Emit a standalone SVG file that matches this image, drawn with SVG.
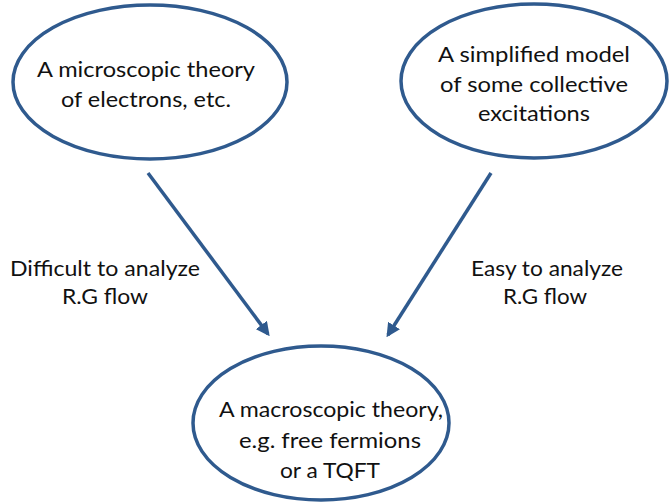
<svg xmlns="http://www.w3.org/2000/svg" width="670" height="503" viewBox="0 0 670 503">
<defs>
<style>
.node ellipse{fill:#ffffff;stroke:#2f5a8e;stroke-width:3.5}
text{font-family:"Lato","Open Sans","Liberation Sans",sans-serif;font-size:22px;fill:#111111;text-anchor:middle}
.conn line{stroke:#2f5a8e;stroke-width:3.5}
</style>
<marker id="ah" viewBox="0 0 10 10" refX="8" refY="5" markerWidth="4" markerHeight="4" orient="auto" markerUnits="strokeWidth">
<path d="M0,0 L10,5 L0,10 Z" fill="#2f5a8e"/>
</marker>
</defs>
<rect width="670" height="503" fill="#ffffff"/>
<g id="n1" class="node">
<ellipse cx="150" cy="82" rx="137" ry="77"/>
<text x="146" y="77" textLength="218" lengthAdjust="spacingAndGlyphs">A microscopic theory</text>
<text x="146" y="107" textLength="170" lengthAdjust="spacingAndGlyphs">of electrons, etc.</text>
</g>
<g id="n2" class="node">
<ellipse cx="534" cy="81" rx="133" ry="77"/>
<text x="534" y="62" textLength="192" lengthAdjust="spacingAndGlyphs">A simplified model</text>
<text x="534" y="92" textLength="188" lengthAdjust="spacingAndGlyphs">of some collective</text>
<text x="534" y="121" textLength="112" lengthAdjust="spacingAndGlyphs">excitations</text>
</g>
<g id="n3" class="node">
<ellipse cx="321" cy="423" rx="128" ry="77"/>
<text x="331" y="417" textLength="224" lengthAdjust="spacingAndGlyphs">A macroscopic theory,</text>
<text x="330" y="448" textLength="182" lengthAdjust="spacingAndGlyphs">e.g. free fermions</text>
<text x="330" y="478" textLength="100" lengthAdjust="spacingAndGlyphs">or a TQFT</text>
</g>
<g id="connectors" class="conn">
<line x1="148" y1="173" x2="268" y2="334" marker-end="url(#ah)"/>
<line x1="491" y1="173" x2="388" y2="335" marker-end="url(#ah)"/>
</g>
<g id="labels">
<text x="105" y="276" textLength="190" lengthAdjust="spacingAndGlyphs">Difficult to analyze</text>
<text x="105" y="304" textLength="86" lengthAdjust="spacingAndGlyphs">R.G flow</text>
<text x="547" y="276" textLength="152" lengthAdjust="spacingAndGlyphs">Easy to analyze</text>
<text x="545" y="304" textLength="84" lengthAdjust="spacingAndGlyphs">R.G flow</text>
</g>
</svg>
